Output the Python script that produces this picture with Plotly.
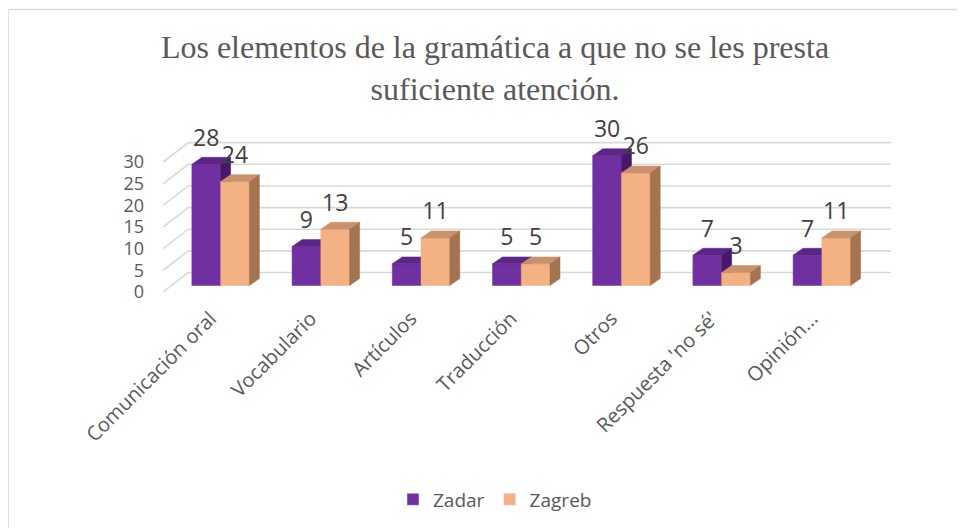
import plotly.graph_objects as go

# ---- data ----
categories = ["Comunicación oral", "Vocabulario", "Artículos", "Traducción",
              "Otros", "Respuesta 'no sé'", "Opinión..."]
zadar = [28, 9, 5, 5, 30, 7, 7]
zagreb = [24, 13, 11, 5, 26, 3, 11]
y_ticks = [0, 5, 10, 15, 20, 25, 30]
title_text = "Los elementos de la gramática a que no se les presta<br>suficiente atención."

# ---- geometry / style ----
OFF = 8                        # page body margin compensation
W, H = 965 - OFF, 528 - OFF
SY = 4.33                      # px per y unit
Y0 = 286 - OFF                 # px of y=0 (figure coords)
XR = [-0.575, 6.69]
YR = [-1.5, 38]
ML, MR = 163 - OFF, 82 - OFF
MT = Y0 - YR[1] * SY
MB = H - (Y0 - YR[0] * SY)
PW, PH = W - ML - MR, H - MT - MB

BAR_W = 0.287          # front width of one bar (x units)
DX, DY = 0.10, 1.6     # 3D depth offset (x units, y units)
BACK_DY = 3.0          # back wall gridline offset (y units)
FRONT_DY = -1.5        # front tick offset (y units)
BACK_X = -0.323
LABEL_SHIFT = -0.1     # category label anchor shift (x units)
LABEL_DY = 5.6         # data label height above bar (y units)

PURPLE = dict(front="#7030A0", top="#5C2588", side="#46186A")
ORANGE = dict(front="#F4B183", top="#C9926C", side="#A4734F")
GRID = "#D9D9D9"
TXT = "#595959"


def polys(values, offset, which):
    xs, ys = [], []
    for i, v in enumerate(values):
        xl = i + offset
        xr = xl + BAR_W
        if which == "front":
            px = [xl, xr, xr, xl, xl]
            py = [0, 0, v, v, 0]
        elif which == "top":
            px = [xl, xr, xr + DX, xl + DX, xl]
            py = [v, v, v + DY, v + DY, v]
        else:
            px = [xr, xr + DX, xr + DX, xr, xr]
            py = [0, DY, v + DY, v, 0]
        xs += px + [None]
        ys += py + [None]
    return xs, ys


fig = go.Figure()

# back wall gridlines and their diagonal links to the front axis
gx, gy = [], []
for t in y_ticks:
    gx += [XR[0], BACK_X, XR[1], None]
    gy += [t + FRONT_DY, t + BACK_DY, t + BACK_DY, None]
fig.add_trace(go.Scatter(x=gx, y=gy, mode="lines", line=dict(color=GRID, width=1.6),
                         hoverinfo="skip", showlegend=False))

for vals, off, col in [(zadar, -BAR_W, PURPLE), (zagreb, 0.0, ORANGE)]:
    for which in ["front", "top", "side"]:
        xs, ys = polys(vals, off, which)
        fig.add_trace(go.Scatter(x=xs, y=ys, mode="lines", fill="toself",
                                 fillcolor=col[which],
                                 line=dict(color=col[which], width=0.5),
                                 hoverinfo="skip", showlegend=False))

# data labels
for vals, off in [(zadar, -BAR_W / 2), (zagreb, BAR_W / 2)]:
    fig.add_trace(go.Scatter(x=[i + off for i in range(len(vals))],
                             y=[v + LABEL_DY for v in vals],
                             text=[str(v) for v in vals], mode="text",
                             textfont=dict(family="Open Sans", size=23, color="#404040"),
                             cliponaxis=False, hoverinfo="skip", showlegend=False))

# legend entries
fig.add_trace(go.Bar(x=[None], y=[None], name="Zadar", marker_color=PURPLE["front"]))
fig.add_trace(go.Bar(x=[None], y=[None], name="Zagreb", marker_color=ORANGE["front"]))

fig.update_layout(
    width=W, height=H,
    margin=dict(l=ML, r=MR, t=MT, b=MB, autoexpand=False),
    paper_bgcolor="white", plot_bgcolor="white",
    title=dict(text=title_text, x=(495 - OFF) / W, xanchor="center",
               y=1 - 50 / H, yanchor="middle",
               font=dict(family="Liberation Serif", size=32, color=TXT)),
    xaxis=dict(type="linear", range=XR, showgrid=False, zeroline=False, showline=False,
               tickmode="array",
               tickvals=[i + LABEL_SHIFT for i in range(len(categories))],
               ticktext=categories,
               tickangle=-45, ticks="", ticklabelstandoff=10,
               tickfont=dict(family="Open Sans", size=20, color=TXT)),
    yaxis=dict(range=YR, showgrid=False, zeroline=False, showline=False,
               tickmode="array", tickvals=[t + FRONT_DY for t in y_ticks],
               ticktext=[str(t) for t in y_ticks], ticks="", ticklabelstandoff=18,
               tickfont=dict(family="Open Sans", size=18, color=TXT)),
    legend=dict(orientation="h", x=(495 - OFF - ML) / PW, xanchor="center",
                y=(H - MB - (500 - OFF)) / PH, yanchor="middle",
                font=dict(family="Open Sans", size=19, color=TXT)),
    showlegend=True,
    shapes=[dict(type="rect", xref="paper", yref="paper",
                 x0=(8 - OFF - ML) / PW, x1=(W + 10 - ML) / PW,
                 y0=(H - MB - (H + 10)) / PH, y1=(H - MB - (10 - OFF)) / PH,
                 line=dict(color=GRID, width=1.5), layer="below")],
)

fig.write_html("out.html")
